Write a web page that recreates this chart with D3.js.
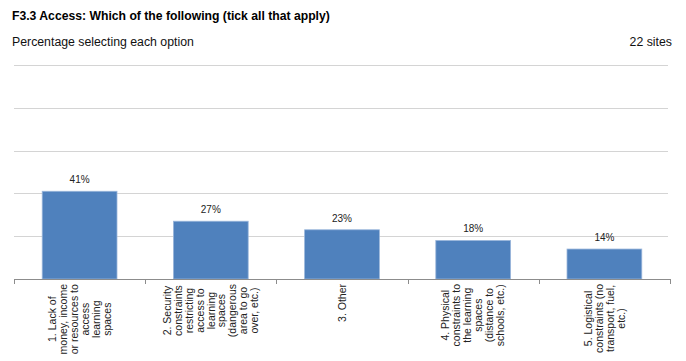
<!DOCTYPE html>
<html>
<head>
<meta charset="utf-8">
<script src="https://cdn.jsdelivr.net/npm/d3@7"></script>
<style>
  html, body { margin: 0; padding: 0; background: #fff; }
  svg { display: block; font-family: "Liberation Sans", Arial, sans-serif; }
</style>
</head>
<body>
<svg id="chart" width="686" height="361"></svg>
<script>
const titleText = "F3.3 Access: Which of the following (tick all that apply)";
const subtitleText = "Percentage selecting each option";
const sitesText = "22 sites";
const categories = ["c1", "c2", "c3", "c4", "c5"];
const categoryLines = [
  ["1. Lack of", "money, income", "or resources to", "access", "learning", "spaces"],
  ["2. Security", "constraints", "restricting", "access to", "learning", "spaces", "(dangerous", "area to go", "over, etc.)"],
  ["3. Other"],
  ["4. Physical", "constraints to", "the learning", "spaces", "(distance to", "schools, etc.)"],
  ["5. Logistical", "constraints (no", "transport, fuel,", "etc.)"]
];
const values = [41, 27, 23, 18, 14];
const gridTicks = [20, 40, 60, 80, 100];

const svg = d3.select("#chart");
const plotLeft = 14, plotRight = 670, plotTop = 65, plotBottom = 279;

svg.append("text").attr("x", 12).attr("y", 20)
  .attr("font-size", 12.2).attr("font-weight", "bold").attr("fill", "#000")
  .text(titleText);
svg.append("text").attr("x", 12).attr("y", 46)
  .attr("font-size", 12.3).attr("fill", "#111")
  .text(subtitleText);
svg.append("text").attr("x", 672).attr("y", 46).attr("text-anchor", "end")
  .attr("font-size", 12.3).attr("fill", "#111")
  .text(sitesText);

const x = d3.scaleBand().domain(categories).range([plotLeft, plotRight])
  .paddingInner(0.43).paddingOuter(0.215);
const xEdge = d3.scaleBand().domain(categories).range([plotLeft, plotRight]).padding(0);
const y = d3.scaleLinear().domain([0, 100]).range([plotBottom, plotTop]);

// gridlines
svg.append("g").selectAll("line").data(gridTicks).join("line")
  .attr("x1", plotLeft).attr("x2", plotRight - 2)
  .attr("y1", d => Math.round(y(d)) + 0.5).attr("y2", d => Math.round(y(d)) + 0.5)
  .attr("stroke", "#d4d4d4").attr("stroke-width", 1);

// bars
svg.append("g").selectAll("rect").data(values).join("rect")
  .attr("x", (d, i) => x(categories[i]))
  .attr("width", x.bandwidth())
  .attr("y", d => y(d))
  .attr("height", d => y(0) - y(d))
  .attr("fill", "#4F81BD")
  .attr("stroke", "#9ab6db").attr("stroke-width", 0.8);

// value labels
svg.append("g").selectAll("text").data(values).join("text")
  .attr("x", (d, i) => x(categories[i]) + x.bandwidth() / 2)
  .attr("y", d => y(d) - 8)
  .attr("text-anchor", "middle").attr("font-size", 10).attr("fill", "#222")
  .text(d => d + "%");

// axis line + ticks
const axisG = svg.append("g");
axisG.append("line").attr("x1", plotLeft).attr("x2", plotRight)
  .attr("y1", plotBottom + 0.5).attr("y2", plotBottom + 0.5)
  .attr("stroke", "#8c8c8c").attr("stroke-width", 1);
const edges = categories.map(c => xEdge(c)).concat([plotRight]);
axisG.selectAll("line.tick").data(edges).join("line").attr("class", "tick")
  .attr("x1", d => Math.round(d) + 0.5).attr("x2", d => Math.round(d) + 0.5)
  .attr("y1", plotBottom).attr("y2", plotBottom + 5)
  .attr("stroke", "#8c8c8c").attr("stroke-width", 1);

// category labels (rotated)
const lh = 11;
categoryLines.forEach((lines, i) => {
  const cx = xEdge(categories[i]) + xEdge.bandwidth() / 2;
  const g = svg.append("g").attr("transform", `translate(${cx},284) rotate(-90)`);
  const t = g.append("text").attr("font-size", 10.5).attr("fill", "#222").attr("text-anchor", "middle");
  const n = lines.length;
  const spans = lines.map((ln, k) => t.append("tspan")
    .attr("x", 0)
    .attr("y", (k - (n - 1) / 2) * lh + 3.7)
    .text(ln));
  const maxLen = d3.max(spans, s => s.node().getComputedTextLength());
  spans.forEach(s => s.attr("x", -maxLen / 2));
});
</script>
</body>
</html>
